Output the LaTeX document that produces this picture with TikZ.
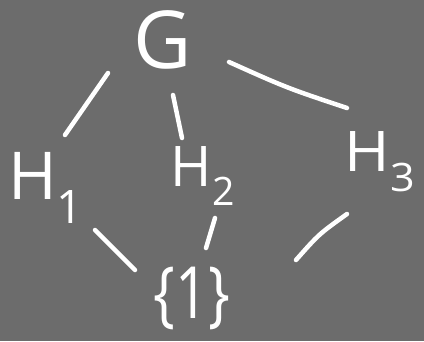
\documentclass[tikz,border=0pt]{standalone}
\usepackage{fontspec}
\setmainfont{Open Sans}
\definecolor{bg}{RGB}{108,108,108}
\tikzset{
  lbl/.style={text=white, inner sep=0pt, anchor=center},
  edge/.style={draw=white, line width=4.5pt, line cap=round}
}
\begin{document}
\begin{tikzpicture}[x=1pt,y=-1pt]
\fill[bg] (0,0) rectangle (424,341);
\useasboundingbox (0,0) rectangle (424,341);
\node[lbl, font=\fontsize{80}{88}\selectfont] (G) at (163,40) {G};
\node[lbl, font=\fontsize{66}{72}\selectfont] (H1) at (46,188) {H\textsubscript{1}};
\node[lbl, font=\fontsize{56}{64}\selectfont] (H2) at (203,176) {H\textsubscript{2}};
\node[lbl, font=\fontsize{56}{64}\selectfont, xscale=1.1] (H3) at (380,162) {H\textsubscript{3}};
\node[lbl, font=\fontsize{72}{80}\selectfont, xscale=0.8] (S) at (192,298) {\{1\}};
\draw[edge] ([shift={(-55,33)}]G.center) -- ([shift={(19,-53)}]H1.center);
\draw[edge] ([shift={(10,55)}]G.center) -- ([shift={(-21,-38)}]H2.center);
\draw[edge] ([shift={(66,22)}]G.center) .. controls ([shift={(124,48)}]G.center) .. ([shift={(-33,-54)}]H3.center);
\draw[edge] ([shift={(49,42)}]H1.center) -- ([shift={(-57,-28)}]S.center);
\draw[edge] ([shift={(12,42)}]H2.center) -- ([shift={(14,-50)}]S.center);
\draw[edge] ([shift={(-33,52)}]H3.center) .. controls ([shift={(127,-64)}]S.center) .. ([shift={(104,-38)}]S.center);
\end{tikzpicture}
\end{document}
